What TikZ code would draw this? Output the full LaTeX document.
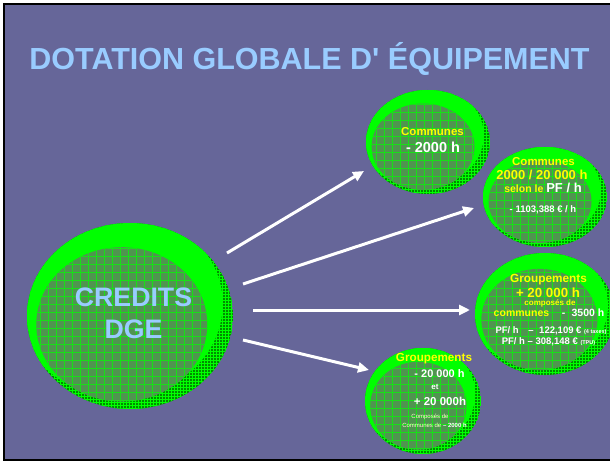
\documentclass[tikz,border=0pt]{standalone}
\usepackage{fontspec}
\setmainfont{Liberation Sans}[Ligatures=TeXOff]
\usetikzlibrary{arrows.meta,patterns}
\definecolor{slide}{RGB}{102,102,153}
\definecolor{skyblue}{RGB}{153,204,255}
\definecolor{lime}{RGB}{0,255,0}
\definecolor{moss}{RGB}{80,148,80}
\definecolor{deepgreen}{RGB}{0,140,0}
\definecolor{lemon}{RGB}{255,255,0}
\def\fsz#1{\fontsize{#1}{#1}\selectfont}
\def\bubble(#1,#2)(#3:#4){%
	\begin{scope}
		\clip (#1,#2) ellipse [x radius=#3pt, y radius=#4pt];
		\fill[deepgreen] (#1,#2) ellipse [x radius=#3pt, y radius=#4pt];
		\path[pattern=grid, pattern color=lime] (#1,#2) ellipse [x radius=#3pt, y radius=#4pt];
		\fill[lime] ({#1-0.1*#3},{#2-0.13*#4}) ellipse [x radius=#3pt, y radius=#4pt];
	\end{scope}
	\begin{scope}
		\clip ({#1-0.08*#3},{#2+0.09*#4}) ellipse [x radius=0.83*#3pt, y radius=0.83*#4pt];
		\fill[moss] ({#1-#3},{#2-#4}) rectangle ({#1+#3},{#2+#4});
		\draw[lime!70!moss, line width=0.6pt, step=8pt] ({#1-#3},{#2-#4}) grid ({#1+#3},{#2+#4});
	\end{scope}
}

\begin{document}
\begin{tikzpicture}[x=1pt, y=-1pt,
		flow/.style={line width=3pt, white, -{Triangle[length=11pt,width=10pt]}},
		yell/.style={text=lemon, font=\bfseries, anchor=base, inner sep=0pt},
		whit/.style={text=white, font=\bfseries, anchor=base, inner sep=0pt},
		soft/.style={text=white!80!lemon, anchor=base, inner sep=0pt},
		bigtxt/.style={text=skyblue, font=\bfseries, anchor=base, inner sep=0pt}]
			%%%%% START %%%%%
			
			\useasboundingbox (0,0) rectangle (610,462);
			\fill[white] (0,0) rectangle (610,462);
			\draw[line width=2pt, fill=slide] (4,4) rectangle (614,460);
			
			\node[bigtxt] (title) at (309.5,70) {\fsz{30.5}DOTATION GLOBALE D' ÉQUIPEMENT};
			
			% bubbles
			\bubble(130,316)(103:93);
			\bubble(428,142)(62:52);
			\bubble(545,197)(62:50);
			\bubble(545,314)(70:61);
			\bubble(423,401)(58:53);
			
			\node[bigtxt] (credits) at (133.5,306) {\fsz{26.7}CREDITS};
			\node[bigtxt] (dge) at (133.5,338) {\fsz{26.7}DGE};
			
			\node[yell] (c1a) at (432.5,136) {\fsz{11.5}Communes};
			\node[whit] (c1b) at (433,153) {\fsz{14.5}- 2000 h};
			
			\node[yell] (c2a) at (543.5,166) {\fsz{11.5}Communes};
			\node[yell] (c2b) at (542,179.5) {\fsz{13}2000 / 20 000 h};
			\node[yell] (c2c) at (543,192.5) {\fsz{10.5}selon le \textcolor{white}{\fsz{13}PF / h}};
			\node[whit] (c2d) at (543,213) {\fsz{9.5}- 1103,388 € / h};
			
			\node[yell] (c3a) at (548.5,283) {\fsz{11.8}Groupements};
			\node[yell] (c3b) at (548,297) {\fsz{13.3}+ 20 000 h};
			\node[yell] (c3c) at (550,305) {\fsz{8}composés de};
			\node[yell] (c3d) at (549,316) {\fsz{10.5}communes\hspace{1.2em}\textcolor{white}{-\hspace{0.6em}3500 h}};
			\node[whit] (c3e) at (551,333) {\fsz{9.5}PF/ h\hspace{1em}–\hspace{0.6em}122,109 € {\fsz{5.5}(4 taxes)}};
			\node[whit] (c3f) at (548.5,344) {\fsz{9.5}PF/ h – 308,148 € {\fsz{5.5}(TPU)}};
			
			\node[yell] (c4a) at (434,361) {\fsz{11.7}Groupements};
			\node[whit] (c4b) at (439.5,377) {\fsz{11}- 20 000 h};
			\node[whit] (c4c) at (435,389) {\fsz{8}et};
			\node[whit] (c4d) at (440,405) {\fsz{11.5}+ 20 000h};
			\node[soft] (c4e) at (430,418) {\fsz{6}Composés de};
			\node[soft] (c4f) at (434.5,427) {\fsz{6}Communes de \textcolor{white}{\bfseries – 2000 h}};
			
			% arrows
			\coordinate (s1) at (227,253);
			\coordinate (e1) at (364,171);
			\coordinate (s2) at (243,284);
			\coordinate (e2) at (474,208);
			\coordinate (s3) at (253,310);
			\coordinate (e3) at (470,310);
			\coordinate (s4) at (243,340);
			\coordinate (e4) at (369,370);
			\draw[flow] (s1) -- (e1);
			\draw[flow] (s2) -- (e2);
			\draw[flow] (s3) -- (e3);
			\draw[flow] (s4) -- (e4);
			
			%%%%% END %%%%%
\end{tikzpicture}
\end{document}
